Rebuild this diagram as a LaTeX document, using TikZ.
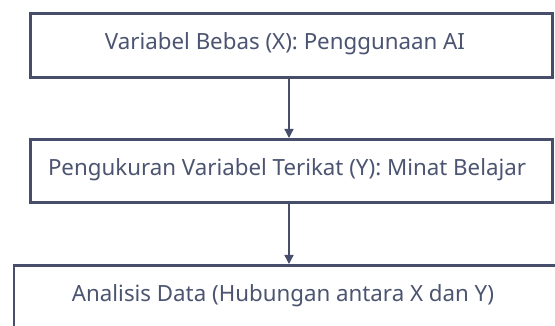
\documentclass[tikz,border=0pt]{standalone}
\usepackage{fontspec}
\setmainfont{Noto Sans}
\usetikzlibrary{arrows.meta}
\definecolor{strokec}{HTML}{464E6C}
\definecolor{textc}{HTML}{4B5470}
\begin{document}
\begin{tikzpicture}[x=1pt,y=-1pt,
  boxstyle/.style={draw=strokec,line width=2.6pt,fill=white,inner sep=0pt,anchor=north west},
  labelstyle/.style={text=textc,font=\fontsize{22.3}{26}\selectfont,inner sep=0pt},
  arrowstyle/.style={draw=strokec,line width=1.3pt,-{Triangle[length=9pt,width=9pt]}}]
\useasboundingbox (0,0) rectangle (555,326);
\node[boxstyle,minimum width=522pt,minimum height=64pt] (b1) at (29,12) {};
\node[boxstyle,minimum width=522pt,minimum height=63pt] (b2) at (29,138) {};
\node[boxstyle,minimum width=560pt,minimum height=64pt] (b3) at (12.5,264) {};
\node[labelstyle] (t1) at (285,44) {Variabel Bebas (X): Penggunaan AI};
\node[labelstyle] (t2) at (287,169.5) {Pengukuran Variabel Terikat (Y): Minat Belajar};
\node[labelstyle] (t3) at (283,295.5) {Analisis Data (Hubungan antara X dan Y)};
\coordinate (a1s) at (289,76);
\coordinate (a1e) at (289,138);
\coordinate (a2s) at (289,201);
\coordinate (a2e) at (289,264);
\draw[arrowstyle] (a1s) -- (a1e);
\draw[arrowstyle] (a2s) -- (a2e);
\end{tikzpicture}
\end{document}
